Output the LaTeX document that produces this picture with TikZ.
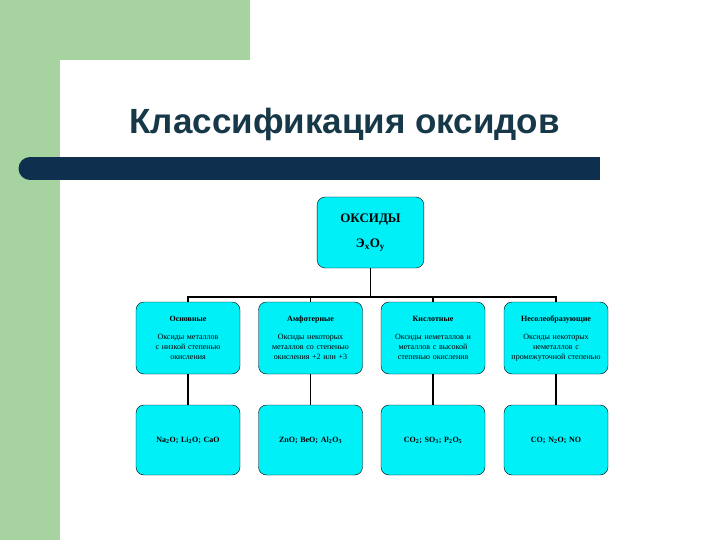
\documentclass[tikz,border=0pt]{standalone}
\usepackage{fontspec}
\setmainfont{Liberation Serif}
\newfontfamily\titlefont{Liberation Sans}
\definecolor{grn}{HTML}{A6D3A0}
\definecolor{bar}{HTML}{0E2F4E}
\definecolor{ttl}{HTML}{163848}
\definecolor{cy}{HTML}{00F0F8}
\begin{document}
\begin{tikzpicture}[x=1pt,y=-1pt,
 box/.style={draw=black,fill=cy,rounded corners=8pt,minimum width=104pt,text width=90pt,align=center,font=\fontsize{8}{10}\selectfont},
 conn/.style={line width=1.6pt}]
\useasboundingbox (0,0) rectangle (720,540);
\fill[white] (0,0) rectangle (720,540);
\fill[grn] (0,0) rectangle (250,60);
\fill[grn] (0,0) rectangle (60,540);
\fill[white] (60,540) -- (60,80) arc[start angle=180,end angle=90,radius=20] -- (250,60) -- (250,80) -- (720,80) -- (720,540) -- cycle;
\fill[white] (80,60) rectangle (720,80);
\fill[bar] (30,157) rectangle (600,180);
\fill[bar] (30,168.5) circle[radius=11.5];
\node[font=\titlefont\bfseries\fontsize{35}{40}\selectfont,text=ttl,anchor=west] (title) at (126,124) {Классификация оксидов};
\node[box,minimum width=105pt,text width=100pt,minimum height=71pt,font=\bfseries\fontsize{13}{15}\selectfont] (top) at (370.5,232.5) {ОКСИДЫ\\[10pt]Э$_\mathbf{x}$О$_\mathbf{y}$};
\foreach \n/\x/\h/\t in {a/188/Основные/{Оксиды металлов с низкой степенью окисления},
  b/310.5/Амфотерные/{Оксиды некоторых металлов со степенью окисления +2 или +3},
  c/433/Кислотные/{Оксиды неметаллов и металлов с высокой степенью окисления},
  d/556/Несолеобразующие/{Оксиды некоторых неметаллов с промежуточной степенью}}{
  \node[box,minimum height=72pt] (\n1) at (\x,338) {\textbf{\h}\\[8pt]\t};
}
\node[box,minimum height=70pt,font=\bfseries\fontsize{8}{10}\selectfont] (a2) at (188,440) {Na$_\mathbf{2}$O; Li$_\mathbf{2}$O; CaO};
\node[box,minimum height=70pt,font=\bfseries\fontsize{8}{10}\selectfont] (b2) at (310.5,440) {ZnO; BeO; Al$_\mathbf{2}$O$_\mathbf{3}$};
\node[box,minimum height=70pt,font=\bfseries\fontsize{8}{10}\selectfont] (c2) at (433,440) {CO$_\mathbf{2}$; SO$_\mathbf{3}$; P$_\mathbf{2}$O$_\mathbf{5}$};
\node[box,minimum height=70pt,font=\bfseries\fontsize{8}{10}\selectfont] (d2) at (556,440) {CO; N$_\mathbf{2}$O; NO};
\coordinate (j) at (370.5,297);
\draw[conn] (top.south) -- (j);
\draw[conn] (a1.north) |- (j) -| (d1.north);
\draw[conn] (b1.north) -- (b1.north |- j);
\draw[conn] (c1.north) -- (c1.north |- j);
\foreach \n in {a,b,c,d}{\draw[conn] (\n1.south) -- (\n2.north);}
\end{tikzpicture}
\end{document}
